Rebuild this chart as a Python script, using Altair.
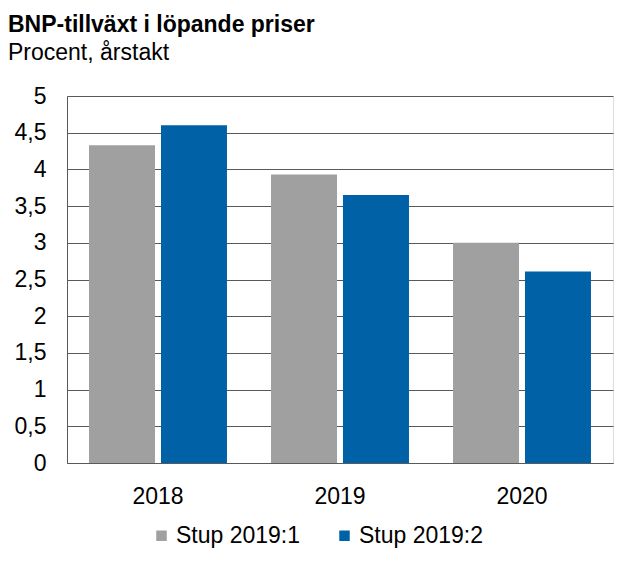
import altair as alt
import pandas as pd

years = ["2018", "2019", "2020"]
series = ["Stup 2019:1", "Stup 2019:2"]
stup_2019_1 = [4.33, 3.93, 3.0]
stup_2019_2 = [4.6, 3.65, 2.61]
colors = ["#A0A0A0", "#0061A6"]
y_ticks = [0, 0.5, 1, 1.5, 2, 2.5, 3, 3.5, 4, 4.5, 5]

rows = []
for i, y in enumerate(years):
    rows.append({"year": y, "series": series[0], "value": stup_2019_1[i]})
    rows.append({"year": y, "series": series[1], "value": stup_2019_2[i]})
df = pd.DataFrame(rows)

FONT = "Liberation Sans"
FS = 23

chart = alt.Chart(df).mark_bar().encode(
    x=alt.X("year:N", sort=years, title=None,
            scale=alt.Scale(paddingInner=0.242, paddingOuter=0.121),
            axis=alt.Axis(labelAngle=0, labelFontSize=FS, labelFont=FONT, labelColor="#000000",
                          ticks=False, tickSize=0, labelPadding=22, domainColor="#595959",
                          domainWidth=1, grid=False)),
    xOffset=alt.XOffset("series:N", sort=series,
                        scale=alt.Scale(paddingInner=0.083, paddingOuter=0)),
    y=alt.Y("value:Q", title=None,
            scale=alt.Scale(domain=[0, 5], nice=False),
            axis=alt.Axis(values=y_ticks, labelExpr="replace(toString(datum.value), '.', ',')",
                          labelFontSize=FS, labelFont=FONT, labelColor="#000000",
                          ticks=False, tickSize=0, labelPadding=21,
                          domainColor="#595959", domainWidth=1,
                          grid=True, gridColor="#595959", gridWidth=1)),
    color=alt.Color("series:N", sort=series,
                    scale=alt.Scale(domain=series, range=colors),
                    legend=alt.Legend(title=None, orient="none", direction="horizontal",
                                      legendX=83, legendY=428,
                                      symbolType="square", symbolSize=110, symbolStrokeWidth=0,
                                      labelFontSize=FS, labelFont=FONT, labelColor="#000000",
                                      labelOffset=3, columnPadding=32)),
).properties(
    width=546,
    height=367,
    autosize=alt.AutoSizeParams(type="none"),
    padding={"left": 59, "top": 88, "right": 10, "bottom": 95},
    title=alt.TitleParams(
        "BNP-tillväxt i löpande priser",
        subtitle="Procent, årstakt",
        anchor="start", frame="group", dx=-59, offset=20,
        font=FONT, fontSize=FS, fontWeight="bold", color="#000000",
        subtitleFont=FONT, subtitleFontSize=FS, subtitleColor="#000000",
        subtitlePadding=5,
    ),
).configure_view(stroke=None).configure(background="#ffffff")

chart.save("out.html", embed_options={"renderer": "svg", "actions": False})
